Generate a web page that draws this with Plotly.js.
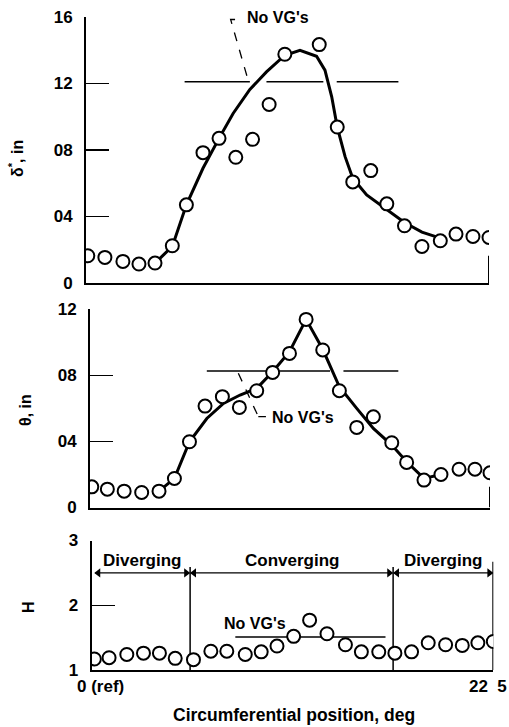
<!DOCTYPE html>
<html>
<head>
<meta charset="utf-8">
<script src="https://cdn.plot.ly/plotly-3.0.1.min.js"></script>
<style>html,body{margin:0;padding:0;background:#fff;}#chart{width:509px;height:727px;}</style>
</head>
<body>
<div id="chart"></div>
<script>
// ---------- data ----------
// delta* panel (in)
const dsPos = [0, 0.96, 1.97, 2.87, 3.77, 4.74, 5.53, 6.46, 7.36, 8.30, 9.24, 10.17, 11.05, null, 12.98, 13.99, 14.86, 15.87, 16.77, 17.76, 18.74, 19.77, 20.65, 21.60, 22.50];
const dsVal = [0.0164, 0.0154, 0.0130, 0.0114, 0.0120, 0.0224, 0.0470, 0.0784, 0.0870, 0.0756, 0.0864, 0.1074, 0.1376, null, 0.1434, 0.0938, 0.0608, 0.0676, 0.0476, 0.0344, 0.0220, 0.0254, 0.0294, 0.0280, 0.0274];
const dsFairX = [3.77, 4.74, 5.53, 6.46, 7.36, 8.15, 9.09, 10.02, 11.05, 11.90, 12.83, 13.30, 13.68, 13.99, 14.43, 14.86, 15.64, 16.77, 17.76, 18.74, 19.77];
const dsFairY = [0.0120, 0.0220, 0.0470, 0.0690, 0.0870, 0.1020, 0.1164, 0.1270, 0.1370, 0.1400, 0.1364, 0.1280, 0.1120, 0.0938, 0.0760, 0.0630, 0.0530, 0.0444, 0.0364, 0.0306, 0.0270];
const dsNoVG = 0.121;
const dsNoVGSegs = [[5.43, 9.09], [10.02, 13.21], [13.96, 17.42]];
const dsTicks = [0, 0.04, 0.08, 0.12, 0.16];
const dsTickText = ['0', '04', '08', '12', '16'];

// theta panel (in)
const thPos = [0, 0.88, 1.83, 2.82, 3.80, 4.67, 5.52, 6.40, 7.38, 8.34, 9.32, 10.22, 11.17, 12.11, 13.05, 13.99, 14.97, 15.91, 16.95, 17.79, 18.77, 19.73, 20.75, 21.65, 22.50];
const thVal = [0.0125, 0.0111, 0.0099, 0.0091, 0.0099, 0.0176, 0.0398, 0.0614, 0.0671, 0.0606, 0.0707, 0.0818, 0.0933, 0.1139, 0.0954, 0.0707, 0.0485, 0.0549, 0.0392, 0.0273, 0.0166, 0.0200, 0.0232, 0.0232, 0.0210];
const thFairX = [3.80, 4.67, 5.52, 6.50, 7.44, 8.38, 9.32, 10.22, 11.17, 11.67, 12.11, 13.05, 13.99, 14.97, 15.91, 16.95, 17.79, 18.77, 19.73];
const thFairY = [0.0099, 0.0176, 0.0398, 0.0539, 0.0630, 0.0681, 0.0721, 0.0822, 0.0943, 0.1044, 0.1139, 0.0958, 0.0731, 0.0600, 0.0479, 0.0378, 0.0277, 0.0176, 0.0200];
const thNoVG = 0.0826;
const thNoVGSegs = [[6.50, 13.46], [14.22, 17.32]];
const thTicks = [0, 0.04, 0.08, 0.12];
const thTickText = ['0', '04', '08', '12'];

// H panel
const hPos = [0, 0.83, 1.83, 2.77, 3.67, 4.56, 5.59, 6.57, 7.47, 8.51, 9.41, 10.30, 11.24, 12.14, 13.12, 14.16, 15.06, 16.04, 16.95, 17.89, 18.83, 19.81, 20.75, 21.63, 22.50];
const hVal = [1.17, 1.19, 1.24, 1.26, 1.26, 1.18, 1.16, 1.29, 1.29, 1.24, 1.28, 1.37, 1.52, 1.77, 1.56, 1.39, 1.28, 1.28, 1.26, 1.28, 1.42, 1.39, 1.38, 1.42, 1.44];
const hNoVG = 1.51;
const hNoVGSeg = [7.95, 16.42];
const hTicks = [1, 2, 3];
const hTickText = ['1', '2', '3'];

const regionEdges = [0, 5.40, 16.85, 22.5];
const regionLabels = ['Diverging', 'Converging', 'Diverging'];
const regionLevel = 2.5;
const xEndLabels = ['0 (ref)', '22\u00a0\u00a05'];

// ---------- drawing ----------
const FONT = 'Liberation Sans, Arial, sans-serif';
const W = 509, H = 727;
const px = v => v / W;
const py = v => 1 - v / H;

const markerStyle = {symbol: 'circle', size: 13, color: '#fff', line: {color: '#000', width: 2}};

// arrowheads of the region arrows (just inside each region edge)
const headInset = 0.22;
const headX = [], headY = [], headSym = [];
for (let i = 0; i < regionLabels.length; i++) {
  headX.push(regionEdges[i] + headInset, regionEdges[i + 1] - headInset);
  headY.push(regionLevel, regionLevel);
  headSym.push('triangle-left', 'triangle-right');
}

const traces = [
  {x: dsFairX, y: dsFairY, xaxis: 'x', yaxis: 'y', mode: 'lines', line: {color: '#000', width: 3}, hoverinfo: 'skip'},
  {x: dsPos, y: dsVal, xaxis: 'x', yaxis: 'y', mode: 'markers', marker: markerStyle},
  {x: thFairX, y: thFairY, xaxis: 'x2', yaxis: 'y2', mode: 'lines', line: {color: '#000', width: 3}, hoverinfo: 'skip'},
  {x: thPos, y: thVal, xaxis: 'x2', yaxis: 'y2', mode: 'markers', marker: markerStyle},
  {x: hPos, y: hVal, xaxis: 'x3', yaxis: 'y3', mode: 'markers', marker: markerStyle},
  {x: headX, y: headY, xaxis: 'x3', yaxis: 'y3', mode: 'markers', marker: {symbol: headSym, size: 8, color: '#000', line: {width: 0}}, hoverinfo: 'skip'}
];

const shapes = [];
const thin = {color: '#000', width: 1.5};
dsNoVGSegs.forEach(s => shapes.push({type: 'line', xref: 'x', yref: 'y', x0: s[0], x1: s[1], y0: dsNoVG, y1: dsNoVG, line: thin, layer: 'below'}));
thNoVGSegs.forEach(s => shapes.push({type: 'line', xref: 'x2', yref: 'y2', x0: s[0], x1: s[1], y0: thNoVG, y1: thNoVG, line: thin, layer: 'below'}));
shapes.push({type: 'line', xref: 'x3', yref: 'y3', x0: hNoVGSeg[0], x1: hNoVGSeg[1], y0: hNoVG, y1: hNoVG, line: thin, layer: 'below'});
// right-end brackets
shapes.push({type: 'line', xref: 'x', yref: 'y', x0: 22.5, x1: 22.5, y0: 0, y1: 0.0164, line: {color: '#000', width: 2}, layer: 'below'});
shapes.push({type: 'line', xref: 'x2', yref: 'y2', x0: 22.5, x1: 22.5, y0: 0, y1: 0.0126, line: {color: '#000', width: 2}, layer: 'below'});
shapes.push({type: 'line', xref: 'x3', yref: 'y3', x0: 22.5, x1: 22.5, y0: 1, y1: 2.67, line: {color: '#000', width: 2}, layer: 'below'});
// region separators and region arrow lines
[regionEdges[1], regionEdges[2]].forEach(e => shapes.push({type: 'line', xref: 'x3', yref: 'y3', x0: e, x1: e, y0: 1, y1: 2.59, line: thin, layer: 'below'}));
for (let i = 0; i < regionLabels.length; i++) {
  shapes.push({type: 'line', xref: 'x3', yref: 'y3', x0: regionEdges[i] + 0.05, x1: regionEdges[i + 1] - 0.05, y0: regionLevel, y1: regionLevel, line: {color: '#000', width: 1.4}, layer: 'below'});
}
// leaders for "No VG's"
shapes.push({type: 'path', xref: 'x', yref: 'y', path: 'M 8.26 0.1585 L 8.01 0.1585 L 8.99 0.1221', line: {color: '#000', width: 1.3, dash: 'dash'}});
shapes.push({type: 'line', xref: 'x2', yref: 'y2', x0: 8.28, y0: 0.0813, x1: 9.41, y1: 0.0550, line: {color: '#000', width: 1.3, dash: 'dash'}});
shapes.push({type: 'line', xref: 'x2', yref: 'y2', x0: 9.41, y0: 0.0550, x1: 9.84, y1: 0.0550, line: {color: '#000', width: 1.3}});

const txt = (size) => ({family: FONT, size: size, color: '#000', weight: 'bold'});
const annotations = [];
annotations.push({xref: 'x', yref: 'y', x: 8.82, y: 0.1594, xanchor: 'left', yanchor: 'middle', text: "No VG's", showarrow: false, font: txt(16)});
annotations.push({xref: 'x2', yref: 'y2', x: 10.07, y: 0.0542, xanchor: 'left', yanchor: 'middle', text: "No VG's", showarrow: false, font: txt(16)});
annotations.push({xref: 'x3', yref: 'y3', x: 9.07, y: 1.72, xanchor: 'center', yanchor: 'middle', text: "No VG's", showarrow: false, font: txt(16)});
for (let i = 0; i < regionLabels.length; i++) {
  const a = regionEdges[i], b = regionEdges[i + 1];
  annotations.push({xref: 'x3', yref: 'y3', x: (a + b) / 2, y: regionLevel, yanchor: 'bottom', yshift: 1, text: regionLabels[i], showarrow: false, font: txt(17)});
}
// axis titles
annotations.push({xref: 'paper', yref: 'paper', x: px(16), y: py(158), text: 'δ<sup>*</sup>, in', textangle: -90, showarrow: false, font: txt(16), xanchor: 'center', yanchor: 'middle'});
annotations.push({xref: 'paper', yref: 'paper', x: px(25), y: py(410), text: 'θ, in', textangle: -90, showarrow: false, font: txt(16), xanchor: 'center', yanchor: 'middle'});
annotations.push({xref: 'paper', yref: 'paper', x: px(28), y: py(607), text: 'H', textangle: -90, showarrow: false, font: txt(16), xanchor: 'center', yanchor: 'middle'});
annotations.push({xref: 'paper', yref: 'paper', x: px(294), y: py(715), text: 'Circumferential position, deg', showarrow: false, font: txt(17.5), xanchor: 'center', yanchor: 'middle'});
annotations.push({xref: 'paper', yref: 'paper', x: px(75), y: py(686), text: xEndLabels[0], showarrow: false, font: txt(17), xanchor: 'left', yanchor: 'middle'});
annotations.push({xref: 'paper', yref: 'paper', x: px(509), y: py(686), text: xEndLabels[1], showarrow: false, font: txt(17), xanchor: 'right', yanchor: 'middle'});

const xBase = {showline: true, linecolor: '#000', linewidth: 2, showgrid: false, zeroline: false, ticks: '', showticklabels: false, fixedrange: true};
const yBase = {showline: true, linecolor: '#000', linewidth: 2, showgrid: false, zeroline: false, ticks: 'inside', ticklen: 23, tickwidth: 1.5, tickcolor: '#000',
  tickmode: 'array', tickfont: txt(17), ticklabelstandoff: 8, fixedrange: true};

const layout = {
  width: W, height: H, margin: {l: 0, r: 0, t: 0, b: 0}, paper_bgcolor: '#fff', plot_bgcolor: 'rgba(0,0,0,0)', showlegend: false,
  xaxis: Object.assign({}, xBase, {domain: [px(86), px(489)], range: [-0.1, 22.5], anchor: 'y'}),
  yaxis: Object.assign({}, yBase, {domain: [py(283), py(17)], range: [0, 0.16], tickvals: dsTicks, ticktext: dsTickText, anchor: 'x'}),
  xaxis2: Object.assign({}, xBase, {domain: [px(90), px(490)], range: [-0.1, 22.5], anchor: 'y2'}),
  yaxis2: Object.assign({}, yBase, {domain: [py(507.5), py(309.3)], range: [0, 0.12], tickvals: thTicks, ticktext: thTickText, anchor: 'x2'}),
  xaxis3: Object.assign({}, xBase, {domain: [px(91.7), px(493.3)], range: [-0.15, 22.5], anchor: 'y3'}),
  yaxis3: Object.assign({}, yBase, {domain: [py(670), py(540.5)], range: [1, 3], tickvals: hTicks, ticktext: hTickText, anchor: 'x3'}),
  shapes: shapes, annotations: annotations
};

Plotly.newPlot('chart', traces, layout, {staticPlot: true, displayModeBar: false});
</script>
</body>
</html>
